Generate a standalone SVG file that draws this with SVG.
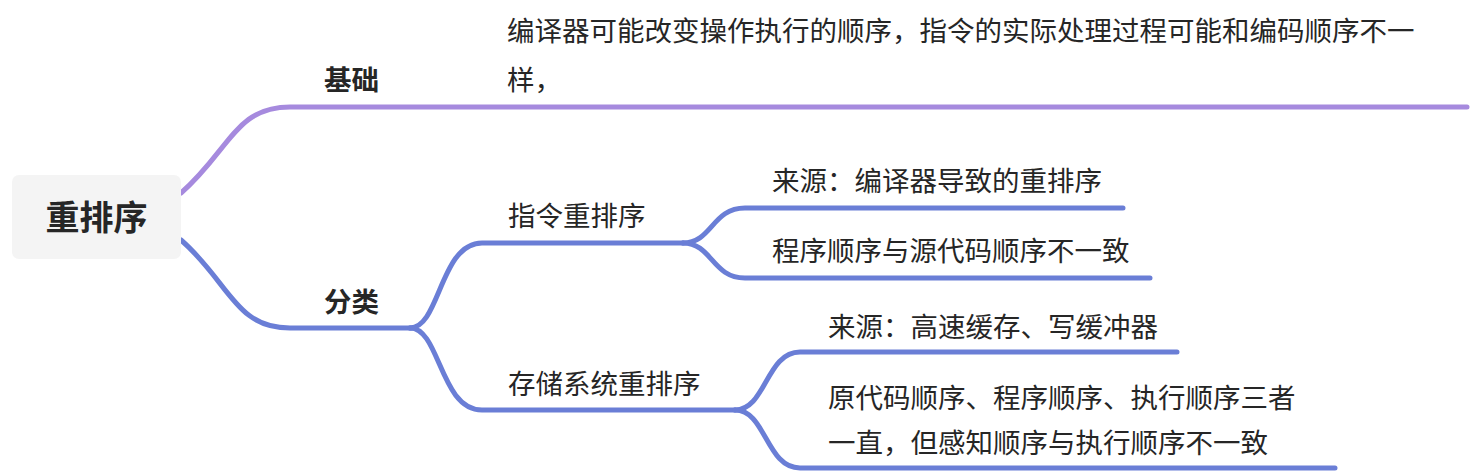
<svg xmlns="http://www.w3.org/2000/svg" width="1478" height="476" viewBox="0 0 1478 476">
<style>
  .t { font-family: "Noto Sans CJK SC", "Noto Sans", sans-serif; font-size: 27.5px; fill: #262626; }
  .b { font-weight: bold; }
  .root { font-family: "Noto Sans CJK SC", "Noto Sans", sans-serif; font-size: 34px; font-weight: bold; fill: #262626; }
  .c { fill: none; stroke-width: 5; stroke-linecap: round; stroke-linejoin: round; }
  .p { stroke: #a68ade; }
  .bl { stroke: #6a7ed6; }
</style>
<g id="connectors">
  <path class="c p" d="M181,193 C230,150 235,107 290,107 L1467,107"/>
  <path class="c bl" d="M181,240 C230,283 235,328 290,328 L411,328"/>
  <path class="c bl" d="M410,328 C440,328 440,243 482,243 L683,243"/>
  <path class="c bl" d="M410,328 C440,328 440,410 482,410 L735,410"/>
  <path class="c bl" d="M683,243 C712,243 712,208 745,208 L1123,208"/>
  <path class="c bl" d="M683,243 C712,243 712,278 745,278 L1150,278"/>
  <path class="c bl" d="M735,410 C766,410 766,352 800,352 L1177,352"/>
  <path class="c bl" d="M735,410 C766,410 766,468 800,468 L1335,468"/>
</g>
<g id="node-root">
  <rect x="12" y="175" width="169" height="84" rx="7" fill="#f4f4f4"/>
  <text class="root" x="96.5" y="230" text-anchor="middle">重排序</text>
</g>
<g id="node-jichu">
  <text class="t b" x="324" y="90">基础</text>
</g>
<g id="node-jichu-desc">
  <text class="t" x="507" y="41">编译器可能改变操作执行的顺序，指令的实际处理过程可能和编码顺序不一</text>
  <text class="t" x="507" y="90">样，</text>
</g>
<g id="node-fenlei">
  <text class="t b" x="324" y="312">分类</text>
</g>
<g id="node-zhiling">
  <text class="t" x="508" y="226">指令重排序</text>
</g>
<g id="node-zhiling-src">
  <text class="t" x="772" y="191">来源：编译器导致的重排序</text>
</g>
<g id="node-zhiling-desc">
  <text class="t" x="772" y="261">程序顺序与源代码顺序不一致</text>
</g>
<g id="node-cunchu">
  <text class="t" x="508" y="394">存储系统重排序</text>
</g>
<g id="node-cunchu-src">
  <text class="t" x="828" y="337">来源：高速缓存、写缓冲器</text>
</g>
<g id="node-cunchu-desc">
  <text class="t" x="828" y="408">原代码顺序、程序顺序、执行顺序三者</text>
  <text class="t" x="828" y="453">一直，但感知顺序与执行顺序不一致</text>
</g>
</svg>
